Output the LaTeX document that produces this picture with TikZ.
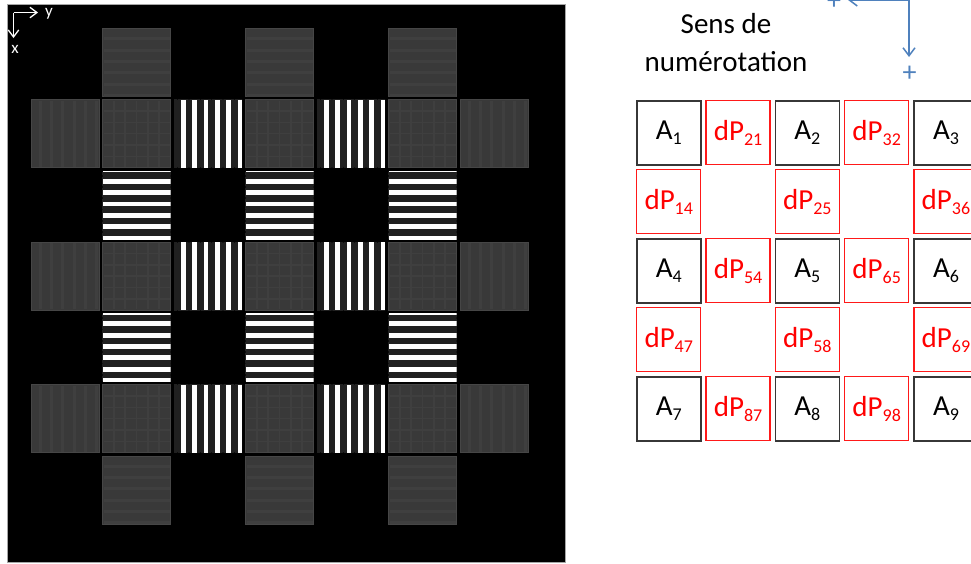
\documentclass[tikz,border=0pt]{standalone}
\usepackage{fontspec}
\setmainfont{Carlito}
\usetikzlibrary{arrows.meta}
\definecolor{cellgrey}{RGB}{57,57,57}
\definecolor{celledge}{RGB}{70,70,70}
\definecolor{texgrey}{RGB}{63,63,63}
\definecolor{numblue}{RGB}{79,129,189}
\definecolor{boxred}{RGB}{255,25,25}
\definecolor{boxgrey}{RGB}{55,55,55}
\newcommand\idx[1]{\raisebox{-5pt}{\fontsize{18}{18}\selectfont#1}}

\begin{document}
\begin{tikzpicture}[x=1pt,y=-1pt,line width=0.7pt,
  ablk/.style={draw=boxgrey,line width=1.6pt,minimum size=64pt,inner sep=0pt,
    font=\fontsize{29}{32}\selectfont},
  dpred/.style={ablk,draw=boxred,line width=1.2pt,text=red},
  greycell/.style={fill=cellgrey,draw=celledge,line width=0.8pt},
  tex/.style={texgrey,line width=3pt},
  barb/.style={-{Straight Barb[length=#1,width=1.5*#1]}}]
\useasboundingbox (0,0) rectangle (971,563);
\clip (0,0) rectangle (971,563);
\def\p{71.5}\def\q{71.25}\def\w{68}
% detector image
\fill[black] (7,4) rectangle (565,562);
\draw[gray!70,line width=0.6pt] (7,4) rectangle (565,562);
\foreach \j in {1,3,5}{
  \pgfmathsetmacro\cy{28.5+\q*\j}
  % grid-textured squares
  \foreach \i in {1,3,5}{
    \pgfmathsetmacro\cx{31+\p*\i}
    \draw[greycell] (\cx,\cy) rectangle ++(\w,\w);
    \foreach \k in {1,...,5}{
      \draw[tex,line width=1.5pt] ({\cx+11.33*\k},\cy+1) -- ++(0,\w-2);
      \draw[tex,line width=1.5pt] (\cx+1,{\cy+11.33*\k}) -- ++(\w-2,0);
    }
  }
  % side squares, vertical texture
  \foreach \i in {0,6}{
    \pgfmathsetmacro\cx{31+\p*\i}
    \draw[greycell] (\cx,\cy) rectangle ++(\w,\w);
    \foreach \k in {0,...,5}
      \draw[tex] ({\cx+9.3+11.33*\k},\cy+1) -- ++(0,\w-2);
  }
  % vertical fringes
  \foreach \i in {2,4}{
    \pgfmathsetmacro\cx{31+\p*\i}
    \begin{scope}
      \clip (\cx,\cy) rectangle ++(\w,\w);
      \foreach \k in {-1,...,5}{
        \pgfmathsetmacro\c{\cx+9.3+11.33*\k}
        \shade[left color=gray!25!black,middle color=white,right color=gray!25!black]
          (\c-5.3,\cy) rectangle (\c+5.3,\cy+\w);
        \fill[white] (\c-2.4,\cy) rectangle (\c+2.4,\cy+\w);
      }
    \end{scope}
  }
}
% top and bottom squares, horizontal texture
\foreach \j in {0,6}
  \foreach \i in {1,3,5}{
    \pgfmathsetmacro\cx{31+\p*\i}\pgfmathsetmacro\cy{28.5+\q*\j}
    \draw[greycell] (\cx,\cy) rectangle ++(\w,\w);
    \foreach \k in {0,...,5}
      \draw[tex] (\cx+1,{\cy+10.3+11.33*\k}) -- ++(\w-2,0);
  }
% horizontal fringes
\foreach \j in {2,4}
  \foreach \i in {1,3,5}{
    \pgfmathsetmacro\cx{31+\p*\i}\pgfmathsetmacro\cy{28.5+\q*\j}
    \begin{scope}
      \clip (\cx,\cy) rectangle ++(\w,\w);
      \foreach \k in {-1,...,5}{
        \pgfmathsetmacro\c{\cy+10.3+11.33*\k}
        \shade[top color=gray!25!black,middle color=white,bottom color=gray!25!black]
          (\cx,\c-5.3) rectangle (\cx+\w,\c+5.3);
        \fill[white] (\cx,\c-2.4) rectangle (\cx+\w,\c+2.4);
      }
    \end{scope}
  }
% image axes
\coordinate (o) at (13.5,12.5);
\coordinate (ytip) at (38,12.5);
\coordinate (xtip) at (13.5,38);
\draw[white,line width=1.3pt,barb=7pt] (o) -- (ytip);
\draw[white,line width=1.3pt,barb=7pt] (o) -- (xtip);
\node[white,font=\fontsize{17}{17}\selectfont,anchor=base] (ylab) at (49,16) {y};
\node[white,font=\fontsize{17}{17}\selectfont,anchor=base] (xlab) at (15,53) {x};
% numbering direction
\node[font=\fontsize{29}{38}\selectfont,align=center] (title) at (726,43) {Sens de\\numérotation};
\coordinate (corner) at (909,0);
\coordinate (downtip) at (909,57);
\coordinate (lefttip) at (848,0);
\draw[numblue,line width=1.5pt,barb=8pt] (corner) -- (downtip);
\draw[numblue,line width=1.5pt,barb=8pt] (corner) -- (lefttip);
\node[numblue,font=\fontsize{28}{28}\selectfont] (plusdown) at (909.5,73.5) {+};
\node[numblue,font=\fontsize{28}{28}\selectfont] (plusleft) at (834,1.5) {+};
% phase grid
\foreach \n/\i/\j in {1/0/0,2/2/0,3/4/0,4/0/2,5/2/2,6/4/2,7/0/4,8/2/4,9/4/4}
  \node[ablk] (A\n) at ({668.75+69.3*\i},{132.75+69*\j}) {A\idx{\n}};
\foreach \n/\i/\j in {21/1/0,32/3/0,14/0/1,25/2/1,36/4/1,54/1/2,65/3/2,
                      47/0/3,58/2/3,69/4/3,87/1/4,98/3/4}
  \node[dpred] (dP\n) at ({668.75+69.3*\i},{132.75+69*\j}) {dP\idx{\n}};
\end{tikzpicture}
\end{document}
